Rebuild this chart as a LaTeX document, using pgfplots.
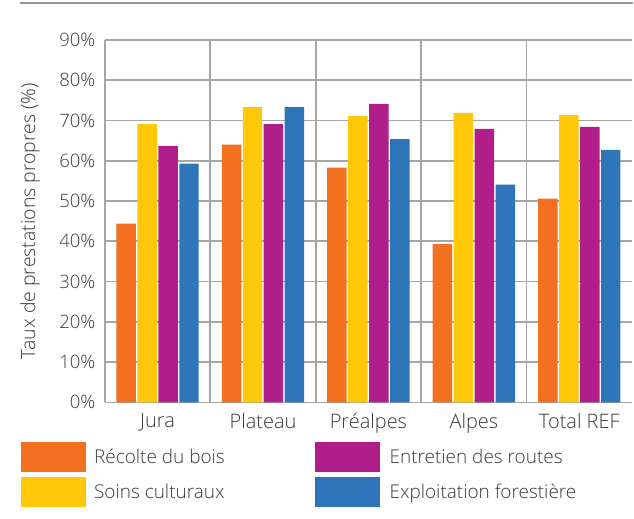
\documentclass[border=0pt]{standalone}
\usepackage{pgfplots}
\pgfplotsset{compat=1.18}
\usepackage{fontspec}
\setmainfont{Open Sans}[UprightFont=* Light]
\definecolor{cOr}{HTML}{F37021}
\definecolor{cYe}{HTML}{FFC90A}
\definecolor{cPu}{HTML}{B01E8A}
\definecolor{cBl}{HTML}{2E75BA}
\definecolor{gridc}{HTML}{A6A6A6}
\definecolor{txt}{HTML}{3A3A3A}
\begin{document}
\begin{tikzpicture}[x=1pt,y=1pt]
\path (0,0) rectangle (634,519);
\draw[color=gridc!120, line width=2pt] (20,516) -- (634,516);
\begin{axis}[
  at={(105pt,116pt)}, anchor=south west,
  scale only axis, width=528pt, height=363pt,
  ybar=1.5pt, bar width=19.5pt,
  xmin=-0.5, xmax=4.5, ymin=0, ymax=90,
  xtick={0,1,2,3,4},
  xticklabels={Jura,Plateau,Préalpes,Alpes,Total REF},
  minor xtick={0.5,1.5,2.5,3.5},
  ytick={0,10,...,90},
  yticklabel={\pgfmathprintnumber{\tick}\%},
  /pgf/number format/assume math mode=true,
  ymajorgrids, xminorgrids,
  major grid style={gridc, line width=1.6pt},
  minor grid style={gridc, line width=1.6pt},
  axis x line*=bottom, axis y line*=left,
  axis line style={gridc, line width=1.6pt, -},
  major tick length=0pt, minor tick length=0pt,
  xticklabel style={font=\fontsize{20}{24}\selectfont, text=txt, yshift=-7pt},
  yticklabel style={font=\fontsize{18.5}{22}\selectfont, text=txt, xshift=-6pt},
  ylabel={Taux de prestations propres (\%)},
  every axis y label/.style={at={(axis description cs:0,0.5)}, xshift=-75pt, rotate=90, anchor=center,
    font=\fontsize{19.5}{23}\selectfont, text=txt},
  legend columns=2, transpose legend,
  legend style={draw=none, fill=none, at={(-0.159,-0.11)}, anchor=north west,
    font=\fontsize{19}{23}\selectfont, text=txt, row sep=5pt, inner sep=0pt},
  legend cell align=left,
  legend image code/.code={\fill[#1] (0pt,-15pt) rectangle (65pt,15pt);},
  clip=false,
]
\addplot[fill=cOr, draw=none] coordinates {(0,44.4) (1,64.0) (2,58.3) (3,39.3) (4,50.6)};
\addplot[fill=cYe, draw=none] coordinates {(0,69.1) (1,73.3) (2,71.1) (3,71.9) (4,71.4)};
\addplot[fill=cPu, draw=none] coordinates {(0,63.7) (1,69.1) (2,74.1) (3,67.9) (4,68.4)};
\addplot[fill=cBl, draw=none] coordinates {(0,59.3) (1,73.3) (2,65.4) (3,54.1) (4,62.7)};
\legend{\hspace{6pt}\makebox[219pt][l]{Récolte du bois},\hspace{6pt}\makebox[219pt][l]{Soins culturaux},\hspace{8pt}Entretien des routes,\hspace{8pt}Exploitation forestière}
\end{axis}
\end{tikzpicture}
\end{document}
